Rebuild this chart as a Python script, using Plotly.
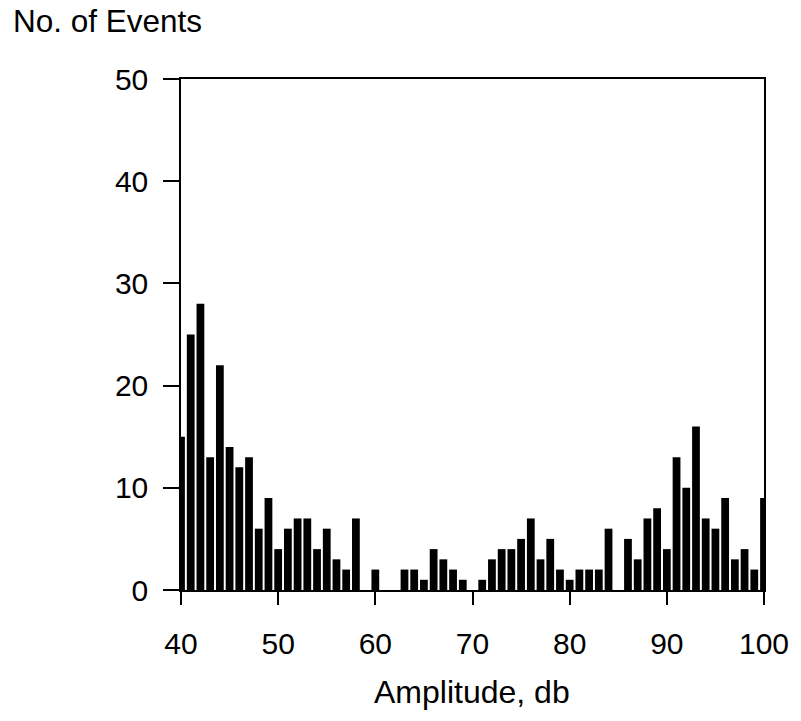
import plotly.graph_objects as go

amplitude = list(range(40, 101))
events = [15, 25, 28, 13, 22, 14, 12, 13, 6, 9,
          4, 6, 7, 7, 4, 6, 3, 2, 7, 0,
          2, 0, 0, 2, 2, 1, 4, 3, 2, 1,
          0, 1, 3, 4, 4, 5, 7, 3, 5, 2,
          1, 2, 2, 2, 6, 0, 5, 3, 7, 8,
          4, 13, 10, 16, 7, 6, 9, 3, 4, 2,
          9]
x_ticks = [40, 50, 60, 70, 80, 90, 100]
y_ticks = [0, 10, 20, 30, 40, 50]

FONT = "Liberation Sans, Arial, sans-serif"

fig = go.Figure(go.Bar(x=amplitude, y=events, width=0.8,
                       marker=dict(color="black", line=dict(width=0))))

W, H = 801, 721
L, T = 181, 79
R = W - 768
B = H - 590
pw, ph = W - L - R, H - T - B

fig.update_layout(
    width=W, height=H,
    margin=dict(l=L, r=R, t=T, b=B, pad=0),
    paper_bgcolor="white", plot_bgcolor="white",
    showlegend=False,
    font=dict(family=FONT, size=30, color="black"),
    xaxis=dict(range=[40, 100], tickvals=x_ticks, ticks="outside", ticklen=13,
               tickwidth=1.5, tickcolor="black", showline=True, linecolor="black",
               linewidth=1.5, mirror=True, showgrid=False, zeroline=False,
               ticklabelstandoff=13, ticklabeloverflow="allow",
               tickfont=dict(size=30)),
    yaxis=dict(range=[0, 50], tickvals=y_ticks, ticks="outside", ticklen=16,
               tickwidth=1.5, tickcolor="black", showline=True, linecolor="black",
               linewidth=1.5, mirror=True, showgrid=False, zeroline=False,
               ticklabelstandoff=9, ticklabeloverflow="allow",
               tickfont=dict(size=30)),
    annotations=[
        dict(text="No. of Events", xref="paper", yref="paper",
             x=(10 - L) / pw, y=1 + (T - 1) / ph,
             xanchor="left", yanchor="top",
             showarrow=False, font=dict(size=31.5)),
        dict(text="Amplitude, db", xref="paper", yref="paper",
             x=(474 - L) / pw, y=(H - B - 692) / ph,
             xanchor="center", yanchor="middle",
             showarrow=False, font=dict(size=32)),
    ],
)

fig.write_html("out.html", config={"displayModeBar": False},
               post_script="document.body.style.margin='0px';document.body.style.overflow='hidden';")
